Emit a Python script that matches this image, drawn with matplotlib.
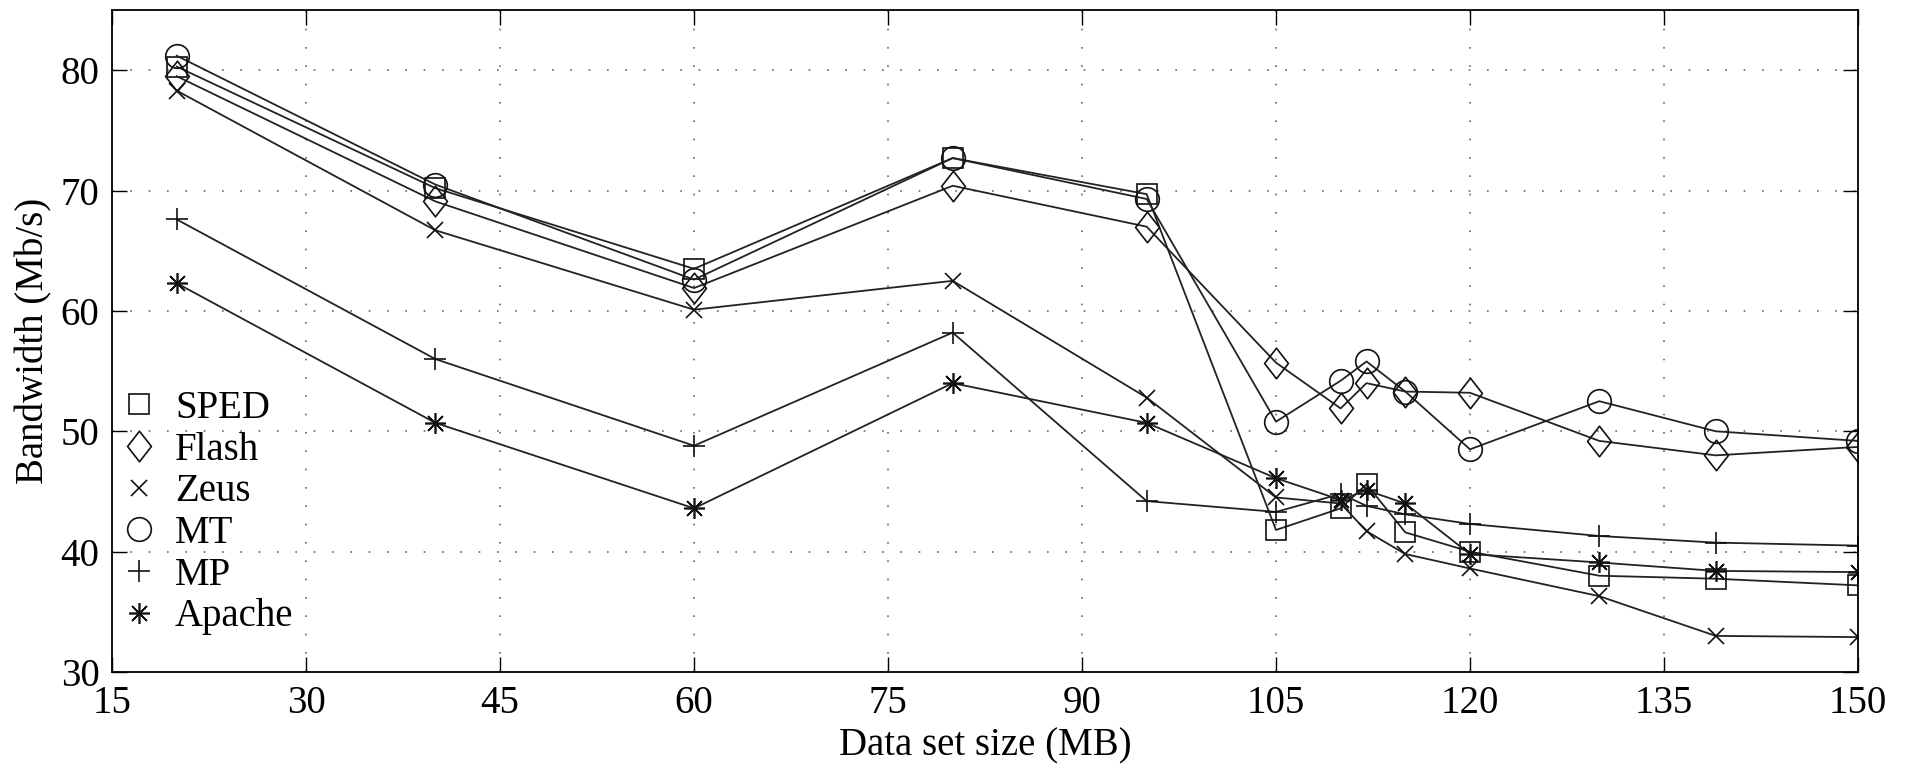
import matplotlib
matplotlib.use("Agg")
import matplotlib.pyplot as plt
from matplotlib.lines import Line2D
from matplotlib.path import Path

plt.rcParams['font.family'] = ['Liberation Serif', 'DejaVu Serif']
plt.rcParams['font.size'] = 28

# data set sizes (MB)
sizes = [20, 40, 60, 80, 95, 105, 110, 112, 115, 120, 130, 139, 150]

# bandwidth (Mb/s) per server
sped = [80.3, 70.2, 63.5, 72.7, 69.7, 41.8, 43.6, 45.6, 41.6, 40.0, 38.0, 37.75, 37.2]
flash = [79.5, 69.1, 61.9, 70.4, 67.0, 55.7, 51.9, 54.0, 53.3, 53.2, 49.2, 48.0, 48.7]
zeus = [78.3, 66.7, 60.1, 62.5, 52.8, 44.5, 44.0, 41.7, 39.8, 38.6, 36.3, 33.0, 32.9]
mt = [81.2, 70.5, 62.6, 72.7, 69.3, 50.8, 54.2, 55.8, 53.3, 48.5, 52.5, 50.0, 49.2]
mp = [67.6, 56.0, 48.8, 58.2, 44.2, 43.3, 44.8, 43.8, 43.1, 42.3, 41.3, 40.75, 40.5]
apache = [62.3, 50.7, 43.6, 54.0, 50.7, 46.1, 44.3, 45.1, 44.0, 39.8, 39.1, 38.4, 38.3]

labels = ['SPED', 'Flash', 'Zeus', 'MT', 'MP', 'Apache']
series = [sped, flash, zeus, mt, mp, apache]

# tall diamond like the original
diamond = Path([(0, 1), (0.78, 0), (0, -1), (-0.78, 0), (0, 1)],
               [Path.MOVETO, Path.LINETO, Path.LINETO, Path.LINETO, Path.CLOSEPOLY])
markers = ['s', diamond, 'x', 'o', '+', (8, 2, 0)]
msizes = [14.5, 22, 12, 17, 16.5, 15]

fig = plt.figure(figsize=(19.06, 7.71), dpi=100)
ax = fig.add_axes([0.0588, 0.1284, 0.916, 0.8586])

for vals, mk, ms in zip(series, markers, msizes):
    ax.plot(sizes, vals, color='#222222', linewidth=1.3, marker=mk, markersize=ms,
            markerfacecolor='none', markeredgecolor='#111111', markeredgewidth=1.2)

ax.set_xlim(15, 150)
ax.set_ylim(30, 85)
ax.set_xticks(range(15, 151, 15))
ax.set_yticks([30, 40, 50, 60, 70, 80])

ax.grid(True, color='#666666', linewidth=1.2, linestyle=(0, (1, 10)))
ax.tick_params(direction='in', length=11, width=1.0, top=True, right=True, pad=9)
for s in ax.spines.values():
    s.set_linewidth(1.3)

ax.set_xlabel('Data set size (MB)')
ax.xaxis.set_label_coords(0.5, -0.083)
ax.set_ylabel('Bandwidth (Mb/s)')
ax.yaxis.set_label_coords(-0.034, 0.5)

handles = [Line2D([], [], linestyle='none', marker=mk, markersize=ms,
                  markerfacecolor='none', markeredgecolor='#111111', markeredgewidth=1.2)
           for mk, ms in zip(markers, msizes)]
ax.legend(handles, labels, loc='upper left', bbox_to_anchor=(0, 0.438), frameon=False,
          handlelength=1.0, handletextpad=0.42, labelspacing=0.12,
          borderaxespad=0.2, borderpad=0, fontsize=28)

fig.savefig('out.png', dpi=100)
